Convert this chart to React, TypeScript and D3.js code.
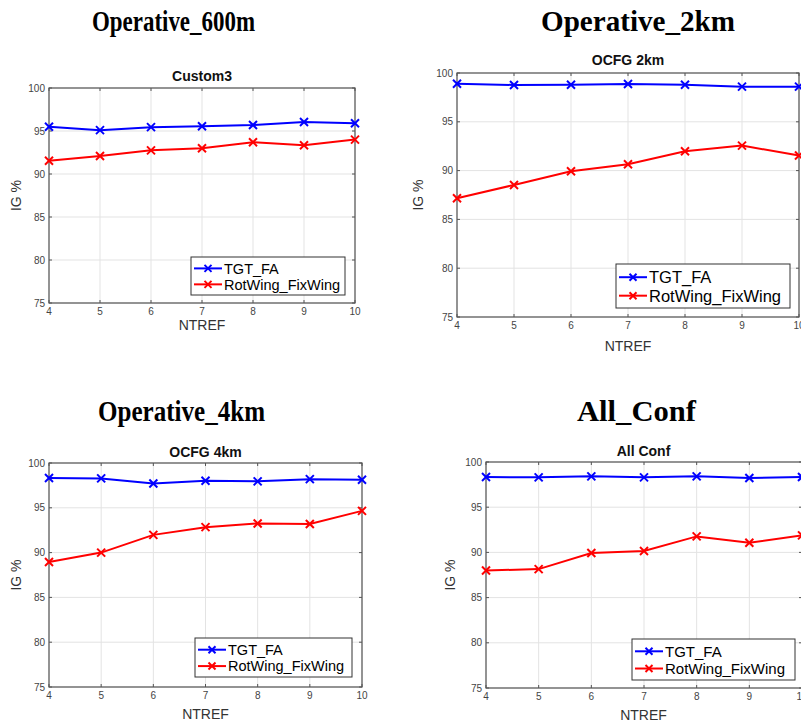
import React from "react";
import * as d3 from "d3";

const xValues = [4, 5, 6, 7, 8, 9, 10];
const yTicks = [75, 80, 85, 90, 95, 100];
const seriesNames = ["TGT_FA", "RotWing_FixWing"];
const seriesColors = ["#0000ff", "#ff0000"];

const tgt600 = [95.5, 95.1, 95.45, 95.55, 95.7, 96.05, 95.9];
const rot600 = [91.55, 92.1, 92.75, 93.0, 93.7, 93.35, 94.0];
const tgt2k = [98.9, 98.77, 98.8, 98.87, 98.8, 98.6, 98.6];
const rot2k = [87.17, 88.53, 89.93, 90.65, 91.98, 92.56, 91.54];
const tgt4k = [98.32, 98.28, 97.72, 98.02, 97.95, 98.2, 98.13];
const rot4k = [88.96, 90.0, 91.98, 92.84, 93.25, 93.2, 94.66];
const tgtAll = [98.34, 98.3, 98.41, 98.3, 98.41, 98.23, 98.34];
const rotAll = [88.0, 88.15, 89.93, 90.15, 91.77, 91.07, 91.88];

const bigTitles = ["Operative_600m", "Operative_2km", "Operative_4km", "All_Conf"];
const subTitles = ["Custom3", "OCFG 2km", "OCFG 4km", "All Conf"];
const xLabel = "NTREF";
const yLabel = "IG %";

const panelData = [
  [tgt600, rot600],
  [tgt2k, rot2k],
  [tgt4k, rot4k],
  [tgtAll, rotAll],
];

// layout (positions only)
const layouts = [
  { l: 49, r: 355, t: 88, b: 303, bigX: 92, bigW: 163, bigY: 31, subY: 81, lg: [191, 257, 154, 38], ylx: 21, nty: 330, fs: 14.5 },
  { l: 457, r: 799, t: 73, b: 317, bigX: 541, bigW: 194, bigY: 31, subY: 65, lg: [616, 264, 174, 44], ylx: 423, nty: 351, fs: 16.5 },
  { l: 49, r: 362, t: 463, b: 687, bigX: 98, bigW: 167, bigY: 421, subY: 457, lg: [195, 638, 157, 39], ylx: 21, nty: 719, fs: 14.5 },
  { l: 486, r: 802, t: 462, b: 688, bigX: 577, bigW: 119, bigY: 421, subY: 456, lg: [632, 639, 163, 41], ylx: 455, nty: 720, fs: 15 },
];

function Marker({ x, y, color, s = 4 }: { x: number; y: number; color: string; s?: number }) {
  return (
    <g stroke={color} strokeWidth={2}>
      <line x1={x - s} y1={y - s} x2={x + s} y2={y + s} />
      <line x1={x - s} y1={y + s} x2={x + s} y2={y - s} />
    </g>
  );
}

function Panel({ idx }: { idx: number }) {
  const L = layouts[idx];
  const data = panelData[idx];
  const x = d3.scaleLinear().domain([4, 10]).range([L.l, L.r]);
  const y = d3.scaleLinear().domain([75, 100]).range([L.b, L.t]);
  const line = d3
    .line<number>()
    .x((_, i) => x(xValues[i]))
    .y((d) => y(d));
  const cx = (L.l + Math.min(L.r, 801)) / 2;
  const [lx, ly, lw, lh] = L.lg;
  const tickFont = "Liberation Sans, Arial, sans-serif";
  return (
    <g>
      <text
        x={L.bigX}
        y={L.bigY}
        fontFamily="Liberation Serif, Times New Roman, serif"
        fontWeight="bold"
        fontSize={30}
        textLength={L.bigW}
        lengthAdjust="spacingAndGlyphs"
        fill="#000"
      >
        {bigTitles[idx]}
      </text>
      <text x={cx} y={L.subY} textAnchor="middle" fontFamily={tickFont} fontWeight="bold" fontSize={14} fill="#111">
        {subTitles[idx]}
      </text>
      {/* grid */}
      <g stroke="#e3e3e3" strokeWidth={1}>
        {xValues.map((v) => (
          <line key={"gx" + v} x1={x(v)} x2={x(v)} y1={L.t} y2={L.b} />
        ))}
        {yTicks.map((v) => (
          <line key={"gy" + v} x1={L.l} x2={L.r} y1={y(v)} y2={y(v)} />
        ))}
      </g>
      {/* ticks */}
      <g stroke="#555" strokeWidth={1}>
        {xValues.map((v) => (
          <g key={"tx" + v}>
            <line x1={x(v)} x2={x(v)} y1={L.b} y2={L.b - 3} />
            <line x1={x(v)} x2={x(v)} y1={L.t} y2={L.t + 3} />
          </g>
        ))}
        {yTicks.map((v) => (
          <g key={"ty" + v}>
            <line x1={L.l} x2={L.l + 3} y1={y(v)} y2={y(v)} />
            <line x1={L.r} x2={L.r - 3} y1={y(v)} y2={y(v)} />
          </g>
        ))}
      </g>
      <rect x={L.l} y={L.t} width={L.r - L.l} height={L.b - L.t} fill="none" stroke="#555" strokeWidth={1.2} />
      {/* tick labels */}
      <g fontFamily={tickFont} fontSize={10} fill="#444">
        {xValues.map((v) => (
          <text key={"lx" + v} x={x(v)} y={L.b + 12} textAnchor="middle">
            {v}
          </text>
        ))}
        {yTicks.map((v) => (
          <text key={"ly" + v} x={L.l - 4} y={y(v) + 3.5} textAnchor="end">
            {v}
          </text>
        ))}
      </g>
      <text x={cx} y={L.nty} textAnchor="middle" fontFamily={tickFont} fontSize={14} fill="#333">
        {xLabel}
      </text>
      <text
        transform={`translate(${L.ylx},${(L.t + L.b) / 2}) rotate(-90)`}
        textAnchor="middle"
        fontFamily={tickFont}
        fontSize={14}
        fill="#333"
      >
        {yLabel}
      </text>
      {/* series */}
      {data.map((vals, si) => (
        <g key={"s" + si}>
          <path d={line(vals) || ""} fill="none" stroke={seriesColors[si]} strokeWidth={2} />
          {vals.map((v, i) => (
            <Marker key={i} x={x(xValues[i])} y={y(v)} color={seriesColors[si]} />
          ))}
        </g>
      ))}
      {/* legend */}
      <rect x={lx} y={ly} width={lw} height={lh} fill="#fff" stroke="#333" strokeWidth={1} />
      {seriesNames.map((n, si) => {
        const rowY = ly + lh * (si === 0 ? 0.3 : 0.72);
        const x1 = lx + 3;
        const x2 = lx + 31;
        return (
          <g key={"lg" + si}>
            <line x1={x1} x2={x2} y1={rowY} y2={rowY} stroke={seriesColors[si]} strokeWidth={2} />
            <Marker x={(x1 + x2) / 2} y={rowY} color={seriesColors[si]} s={3.5} />
            <text x={x2 + 2} y={rowY + L.fs * 0.36} fontFamily={tickFont} fontSize={L.fs} fill="#000">
              {n}
            </text>
          </g>
        );
      })}
    </g>
  );
}

export default function App() {
  return (
    <svg
      width={801}
      height={722}
      style={{ position: "absolute", left: 0, top: 0, background: "#fff" }}
    >
      <rect width={801} height={722} fill="#fff" />
      {[0, 1, 2, 3].map((i) => (
        <Panel key={i} idx={i} />
      ))}
    </svg>
  );
}
